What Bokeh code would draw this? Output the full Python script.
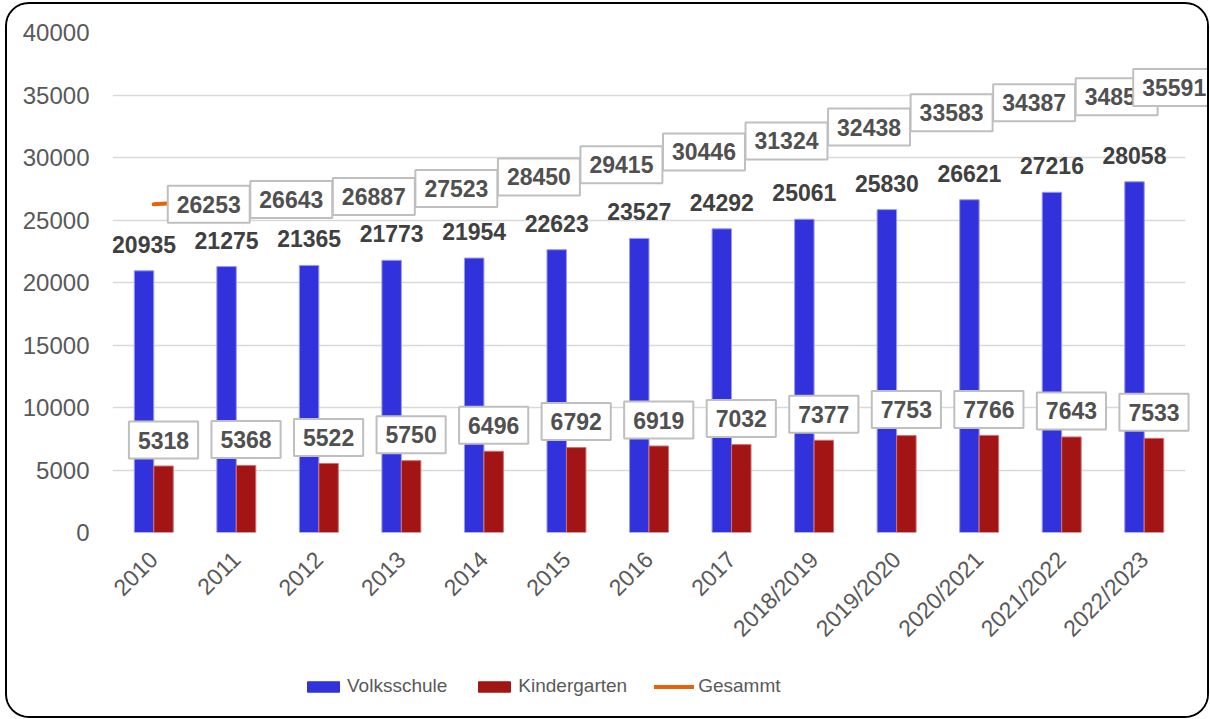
import math
from bokeh.plotting import figure
from bokeh.layouts import column
from bokeh.models import (ColumnDataSource, LabelSet, Legend, LegendItem, FactorRange,
                          FixedTicker, NumeralTickFormatter)
from bokeh.transform import dodge
from bokeh.core.properties import value
from bokeh.embed import file_html
from bokeh.resources import INLINE

years = ["2010", "2011", "2012", "2013", "2014", "2015", "2016", "2017",
         "2018/2019", "2019/2020", "2020/2021", "2021/2022", "2022/2023"]
volksschule = [20935, 21275, 21365, 21773, 21954, 22623, 23527, 24292, 25061, 25830, 26621, 27216, 28058]
kindergarten = [5318, 5368, 5522, 5750, 6496, 6792, 6919, 7032, 7377, 7753, 7766, 7643, 7533]
gesammt = [26253, 26643, 26887, 27523, 28450, 29415, 30446, 31324, 32438, 33583, 34387, 34859, 35591]
y_ticks = [0, 5000, 10000, 15000, 20000, 25000, 30000, 35000, 40000]
series_names = ["Volksschule", "Kindergarten", "Gesammt"]

BLUE = "#3232DC"
RED = "#A31515"
ORANGE = "#E8620C"
FONT = "Liberation Sans"

ges_dx = [14] * len(years)
ges_dx[-1] = -11

src = ColumnDataSource(dict(
    year=years, vs=volksschule, kg=kindergarten, ges=gesammt,
    vs_text=[str(v) for v in volksschule],
    kg_text=[str(v) for v in kindergarten],
    ges_text=[str(v) for v in gesammt],
    ges_dx=ges_dx,
))

p = figure(x_range=FactorRange(*years, range_padding=0), y_range=(0, 40000),
           width=1200, height=649, output_backend="svg", toolbar_location=None,
           min_border_left=105, min_border_right=22, min_border_top=28, min_border_bottom=120)
p.outline_line_color = None
p.border_fill_color = "white"
p.background_fill_color = "white"

p.xgrid.visible = False
p.ygrid.grid_line_color = "#D9D9D9"
p.ygrid.grid_line_width = 1.5

p.yaxis.ticker = FixedTicker(ticks=y_ticks)
p.yaxis.formatter = NumeralTickFormatter(format="0")
p.yaxis.axis_line_color = None
p.yaxis.major_tick_line_color = None
p.yaxis.minor_tick_line_color = None
p.yaxis.major_label_standoff = 17
p.yaxis.major_label_text_font = FONT
p.yaxis.major_label_text_font_size = "24px"
p.yaxis.major_label_text_color = "#595959"

p.xaxis.axis_line_color = None
p.xaxis.major_tick_line_color = None
p.xaxis.minor_tick_line_color = None
p.xaxis.major_label_orientation = math.pi / 4
p.xaxis.major_label_standoff = 17
p.xaxis.major_label_text_font = FONT
p.xaxis.major_label_text_font_size = "23px"
p.xaxis.major_label_text_color = "#595959"

p.vbar(x=dodge("year", -0.118, range=p.x_range), top="vs", width=0.236, source=src,
       fill_color=BLUE, line_color="#9A9AEE", line_width=1)
p.vbar(x=dodge("year", 0.118, range=p.x_range), top="kg", width=0.236, source=src,
       fill_color=RED, line_color="#D07070", line_width=1)
p.line(x="year", y="ges", source=src, line_color=ORANGE, line_width=4, line_cap="round")

vs_labels = LabelSet(x=dodge("year", -0.118, range=p.x_range), y="vs", text="vs_text", source=src,
                     text_align="center", text_baseline="bottom", y_offset=18,
                     text_font=value(FONT), text_font_size="23px", text_font_style="bold",
                     text_color="#404040")
p.add_layout(vs_labels)

p.text(x=dodge("year", 0.118, range=p.x_range), y="kg", text="kg_text", source=src, level="overlay",
       text_align="center", text_baseline="middle", y_offset=-26,
       text_font=value(FONT), text_font_size="23px", text_font_style="bold",
       text_color="#505050", background_fill_color="white",
       border_line_color="#BFBFBF", border_line_width=2, padding=(9, 10))
p.text(x="year", y="ges", text="ges_text", source=src, level="overlay",
       text_align="left", text_baseline="middle", x_offset="ges_dx",
       text_font=value(FONT), text_font_size="23px", text_font_style="bold",
       text_color="#505050", background_fill_color="white",
       border_line_color="#BFBFBF", border_line_width=2, padding=(9, 10))

# legend strip below the chart (swatches only; renderers hidden)
q = figure(width=1200, height=63, x_range=(0, 1), y_range=(0, 1), output_backend="svg",
           toolbar_location=None, x_axis_location=None, y_axis_location=None,
           min_border=0, outline_line_color=None)
q.xgrid.visible = False
q.ygrid.visible = False
lg_vs = q.vbar(x=[0.5], top=[1], width=0.1, fill_color=BLUE, line_color=BLUE, visible=False)
lg_kg = q.vbar(x=[0.5], top=[1], width=0.1, fill_color=RED, line_color=RED, visible=False)
lg_ges = q.line(x=[0.4, 0.6], y=[0.5, 0.5], line_color=ORANGE, line_width=4, line_cap="round",
                visible=False)

legend = Legend(items=[LegendItem(label=series_names[0], renderers=[lg_vs]),
                       LegendItem(label=series_names[1], renderers=[lg_kg]),
                       LegendItem(label=series_names[2], renderers=[lg_ges])],
                orientation="horizontal", location=(191, 19),
                padding=0, margin=0, spacing=27, glyph_width=40, glyph_height=13,
                label_standoff=4, label_text_font=FONT, label_text_font_size="19px",
                label_text_color="#595959", border_line_color=None, background_fill_alpha=0,
                inactive_fill_alpha=0)
q.add_layout(legend, "center")

layout = column(p, q, spacing=0)
layout.styles = {"border": "2px solid black", "border-radius": "24px", "overflow": "hidden",
                 "margin-left": "5px", "margin-top": "2px", "background": "white"}

open("out.html", "w").write(file_html(layout, INLINE))
